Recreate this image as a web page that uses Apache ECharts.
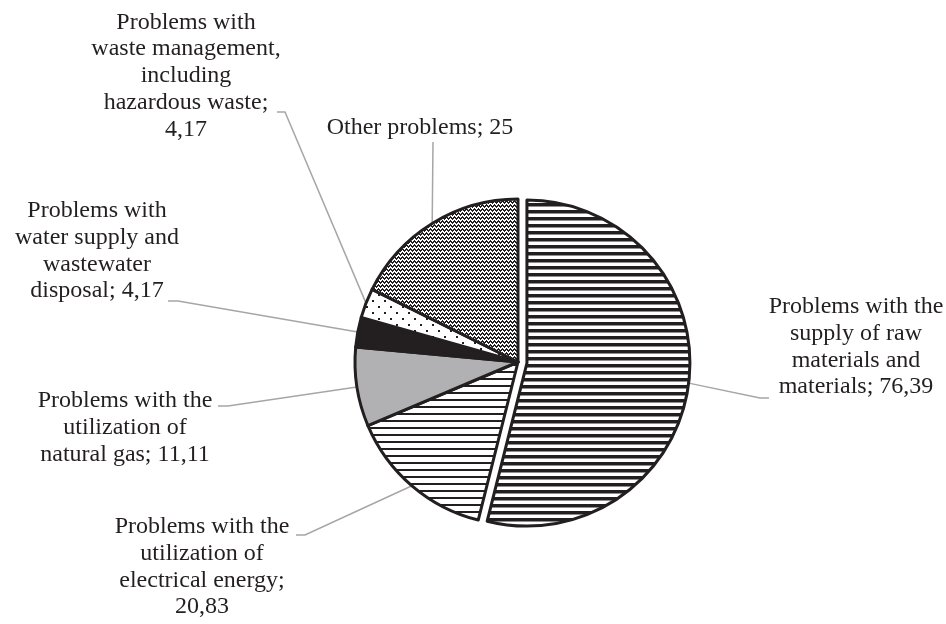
<!DOCTYPE html>
<html>
<head>
<meta charset="utf-8">
<script src="https://cdn.jsdelivr.net/npm/echarts@6/dist/echarts.min.js"></script>
<style>
  html, body { margin: 0; padding: 0; background: #fff; }
  #chart { width: 946px; height: 624px; }
</style>
</head>
<body>
<div id="chart"></div>
<script>
// data
var categories = [
  'Problems with the\nsupply of raw\nmaterials and\nmaterials',
  'Problems with the\nutilization of\nelectrical energy',
  'Problems with the\nutilization of\nnatural gas',
  'Problems with\nwater supply and\nwastewater\ndisposal',
  'Problems with\nwaste management,\nincluding\nhazardous waste',
  'Other problems'
]
var values = [76.39, 20.83, 11.11, 4.17, 4.17, 25]
// value goes on its own line for these slices
var valueOnNewLine = [false, true, false, false, true, false]
// which slice is pulled out of the pie
var explodedIndex = 0

// label placement: centre of text block, and where the leader meets the text
var labelCenter = [[856, 347], [202, 567], [125, 428], [97, 251], [186, 76], [420, 128]]
var leaderEnd = [
  [[760, 398], [769, 398]],
  [[305, 535], [296, 535]],
  [[228, 406], [218, 406]],
  [[178, 301], [168, 301]],
  [[285, 112], [277, 112]],
  [[433, 142]]
]

var pieCenter = [518, 362]
var pieRadius = 163
var explodeOffset = 9

function makePattern(w, h, draw) {
  var c = document.createElement('canvas')
  c.width = w
  c.height = h
  var ctx = c.getContext('2d')
  ctx.fillStyle = '#fff'
  ctx.fillRect(0, 0, w, h)
  ctx.fillStyle = '#231f20'
  draw(ctx)
  return { image: c, repeat: 'repeat' }
}

var fills = [
  // thick horizontal stripes
  makePattern(4, 7, function (ctx) { ctx.fillRect(0, 0, 4, 3.5) }),
  // thin horizontal stripes
  makePattern(4, 7, function (ctx) { ctx.fillRect(0, 0, 4, 2) }),
  '#b1b1b3',
  '#231f20',
  // sparse dots
  makePattern(12, 12, function (ctx) { ctx.fillRect(0, 0, 2, 2); ctx.fillRect(6, 6, 2, 2) }),
  // zigzag weave
  makePattern(4, 4, function (ctx) {
    [[0, 2], [1, 1], [2, 0], [3, 1], [0, 3], [1, 2], [2, 1], [3, 2]].forEach(function (p) {
      ctx.fillRect(p[0], p[1], 1, 1)
    })
  })
]

// direction of the pulled-out slice (middle of its angle, start at 12 o'clock, clockwise)
var total = values.reduce(function (a, b) { return a + b }, 0)
var before = values.slice(0, explodedIndex).reduce(function (a, b) { return a + b }, 0)
var midAngle = (90 - (before + values[explodedIndex] / 2) / total * 360) * Math.PI / 180
var shiftedCenter = [
  pieCenter[0] + Math.cos(midAngle) * explodeOffset,
  pieCenter[1] - Math.sin(midAngle) * explodeOffset
]

var border = { borderColor: '#231f20', borderWidth: 3 }
var hidden = { color: 'rgba(0,0,0,0)', borderWidth: 0 }

var chart = echarts.init(document.getElementById('chart'), null, { renderer: 'canvas' })

chart.setOption({
  animation: false,
  backgroundColor: '#fff',
  series: [{
    // all slices but the pulled-out one, plus every label
    type: 'pie',
    center: pieCenter,
    radius: pieRadius,
    startAngle: 90,
    clockwise: true,
    avoidLabelOverlap: false,
    silent: true,
    data: categories.map(function (name, i) {
      return {
        name: name,
        value: values[i],
        itemStyle: i === explodedIndex ? hidden : Object.assign({ color: fills[i] }, border)
      }
    }),
    emphasis: { disabled: true },
    label: {
      show: true,
      position: 'outside',
      fontFamily: 'Liberation Serif',
      fontSize: 24,
      lineHeight: 26.8,
      color: '#231f20',
      align: 'center',
      formatter: function (p) {
        var v = String(p.value).replace('.', ',')
        return p.name + ';' + (valueOnNewLine[p.dataIndex] ? '\n' : ' ') + v
      }
    },
    labelLine: {
      show: true,
      length: 10,
      length2: 10,
      lineStyle: { color: '#a6a6a6', width: 1.5 }
    },
    labelLayout: function (params) {
      var i = params.dataIndex
      var start = params.labelLinePoints ? params.labelLinePoints[0].slice() : null
      if (start && i === explodedIndex) {
        start[0] += shiftedCenter[0] - pieCenter[0]
        start[1] += shiftedCenter[1] - pieCenter[1]
      }
      return {
        x: labelCenter[i][0],
        y: labelCenter[i][1],
        align: 'center',
        verticalAlign: 'middle',
        labelLinePoints: start ? [start].concat(leaderEnd[i]) : undefined
      }
    }
  }, {
    // the pulled-out slice alone
    type: 'pie',
    center: shiftedCenter,
    radius: pieRadius,
    startAngle: 90,
    clockwise: true,
    silent: true,
    label: { show: false },
    labelLine: { show: false },
    emphasis: { disabled: true },
    data: categories.map(function (name, i) {
      return {
        name: name,
        value: values[i],
        itemStyle: i === explodedIndex ? Object.assign({ color: fills[i] }, border) : hidden
      }
    })
  }]
})
</script>
</body>
</html>
